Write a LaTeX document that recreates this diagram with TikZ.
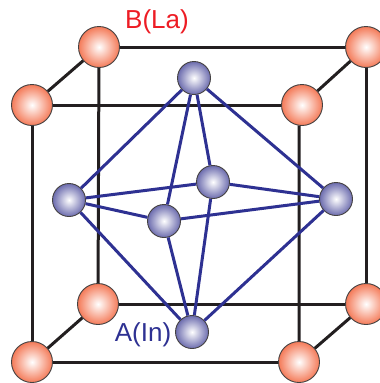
\documentclass[tikz,border=0pt]{standalone}
\usepackage{fontspec}
\setmainfont{Liberation Sans}
\definecolor{cellblack}{HTML}{231F20}
\definecolor{inblue}{HTML}{2E3192}
\definecolor{lared}{HTML}{ED1C24}
\definecolor{laball}{HTML}{F47A58}
\definecolor{inball}{HTML}{6C6CAE}
\begin{document}
\begin{tikzpicture}[x=1pt,y=-1pt,
		lasite/.style={circle,draw=cellblack!85,line width=0.9pt,minimum size=41pt,inner sep=0,inner color=white,outer color=laball},
		insite/.style={circle,draw=cellblack!85,line width=0.9pt,minimum size=33pt,inner sep=0,inner color=white,outer color=inball},
		cell/.style={cellblack,line width=3pt},
		bond/.style={inblue,line width=3pt},
		lbl/.style={inner sep=0,font=\fontsize{26}{26}\selectfont}]
		\useasboundingbox (0,0) rectangle (380,383);
		\node[lasite] (btl) at (99,47) {};
		\node[lasite] (btr) at (366,47) {};
		\node[lasite] (ftl) at (32,105) {};
		\node[lasite] (ftr) at (302,105) {};
		\node[lasite] (bbl) at (98,304) {};
		\node[lasite] (bbr) at (366,304) {};
		\node[lasite] (fbl) at (32,362) {};
		\node[lasite] (fbr) at (299,362) {};
		\draw[cell] (btl)--(btr); \draw[cell] (ftl)--(ftr); \draw[cell] (bbl)--(bbr); \draw[cell] (fbl)--(fbr);
		\draw[cell] (btl)--(bbl); \draw[cell] (btr)--(bbr); \draw[cell] (ftl)--(fbl); \draw[cell] (ftr.262)--(fbr);
		\draw[cell] (btl)--(ftl); \draw[cell] (btr)--(ftr); \draw[cell] (bbl)--(fbl); \draw[cell] (bbr)--(fbr);
		\node[insite] (top) at (194,78) {};
		\node[insite] (lft) at (69,200) {};
		\node[insite] (rgt) at (336,199) {};
		\node[insite] (frn) at (164,221) {};
		\node[insite] (bck) at (213,182) {};
		\node[insite] (bot) at (192,332) {};
		\draw[bond] (top)--(lft); \draw[bond] (top)--(rgt); \draw[bond] (top)--(frn); \draw[bond] (top)--(bck);
		\draw[bond] (bot)--(lft); \draw[bond] (bot)--(rgt); \draw[bond] (bot)--(frn); \draw[bond] (bot)--(bck);
		\draw[bond] (lft)--(frn); \draw[bond] (frn)--(rgt); \draw[bond] (rgt)--(bck); \draw[bond] (bck)--(lft);
		\node[lbl,text=lared] (labla) at (157,22) {B(La)};
		\node[lbl,text=inblue] (labin) at (143,335) {A(In)};
	\end{tikzpicture}
\end{document}
